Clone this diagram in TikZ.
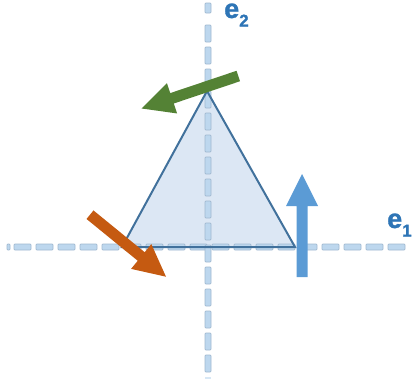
\documentclass[tikz,border=0pt]{standalone}
\usepackage{fontspec}
\newfontfamily\lblfont{Liberation Sans}[BoldFont={Liberation Sans Bold}, BoldFeatures={FakeBold=1.2}]
\usetikzlibrary{calc}
\definecolor{axfill}{RGB}{189,215,238}
\definecolor{axline}{RGB}{160,184,208}
\definecolor{trifill}{RGB}{220,231,244}
\definecolor{triline}{RGB}{65,113,156}
\definecolor{lblblue}{RGB}{46,117,182}
\definecolor{grn}{RGB}{84,130,53}
\definecolor{org}{RGB}{197,90,17}
\definecolor{blu}{RGB}{91,155,213}
\tikzset{
  axdash/.style={fill=axfill, draw=axline, line width=0.7pt, rounded corners=0.8pt},
  lbl/.style={anchor=base west, inner sep=0pt, text=lblblue, font=\lblfont\bfseries\fontsize{27}{27}\selectfont},
}
\newcommand\blockarr[3]{%
  \coordinate (#2b) at ($(#3)!32pt!(#2)$);
  \fill[#1] ($(#2)!5.5pt!90:(#3)$) -- ($(#2b)!5.5pt!90:(#3)$) -- ($(#2b)!16pt!90:(#3)$)
    -- (#3) -- ($(#2b)!16pt!-90:(#3)$) -- ($(#2b)!5.5pt!-90:(#3)$) -- ($(#2)!5.5pt!-90:(#3)$) -- cycle;
}
\begin{document}
\begin{tikzpicture}[x=1pt,y=-1pt]
\useasboundingbox (0,0) rectangle (414,383);
% triangle vertices
\coordinate (A) at (207,91);
\coordinate (L) at (122,247);
\coordinate (R) at (295,247);
\fill[trifill] (A) -- (L) -- (R) -- cycle;
% horizontal axis
\draw[axdash] (7,244) rectangle (10,250);
\foreach \k in {0,...,17} {
  \draw[axdash] ({14+22*\k},244) rectangle ({31+22*\k},250);
}
% vertical axis
\draw[axdash] (205,3) rectangle (211,13);
\foreach \k in {0,...,15} {
  \draw[axdash] (205,{25+22*\k}) rectangle (211,{42+22*\k});
}
\fill[axfill!60] (205,377) rectangle (211,379);
% triangle outline
\draw[triline, line width=2pt] (A) -- (L) -- (R) -- cycle;
% arrows
\coordinate (gt) at (238.3,76);
\coordinate (gh) at (141.7,108.5);
\blockarr{grn}{gt}{gh}
\coordinate (ot) at (90,214.7);
\coordinate (oh) at (166,276.7);
\blockarr{org}{ot}{oh}
\coordinate (bt) at (302,277);
\coordinate (bh) at (302,174);
\blockarr{blu}{bt}{bh}
% labels
\node[lbl] (e2) at (224,18) {e\raisebox{-8.5pt}{\fontsize{17}{17}\selectfont 2}};
\node[lbl] (e1) at (387,228) {e\raisebox{-8.5pt}{\fontsize{17}{17}\selectfont 1}};
\end{tikzpicture}
\end{document}
